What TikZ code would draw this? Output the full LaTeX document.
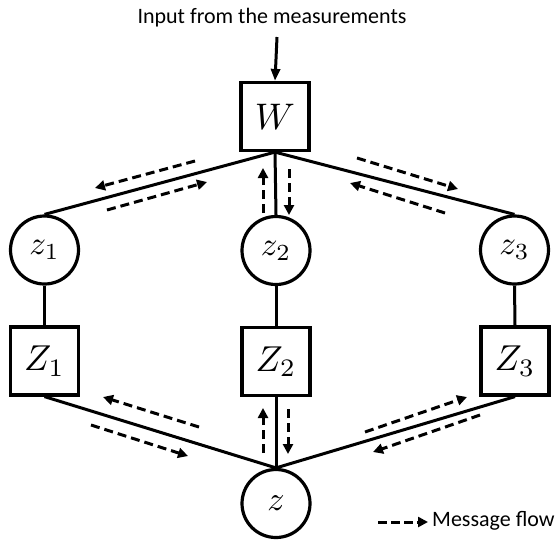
\documentclass[tikz,border=0pt]{standalone}
\usepackage{graphicx}
\usepackage{fontspec}
\setmainfont{Carlito}
\usetikzlibrary{arrows.meta}
\begin{document}
\begin{tikzpicture}[x=1pt,y=-1pt,
  boxnode/.style={draw,line width=3.2pt,minimum width=68pt,minimum height=68pt,inner sep=0pt},
  circnode/.style={draw,circle,line width=3.2pt,minimum size=68pt,inner sep=0pt},
  edge/.style={line width=3pt},
  msg/.style={line width=3pt,dash pattern=on 9pt off 5pt,-{Triangle[length=10pt,width=10pt]}},
  lbl/.style={font=\fontsize{22}{26}\selectfont}
]
\useasboundingbox (0,0) rectangle (559,539);
% nodes
\node[lbl] (inp) at (272,18) {Input from the measurements};
\coordinate (inpend) at (277,37);
\node[boxnode] (W) at (275,116.5) {\scalebox{3.7}{$W$}};
\node[circnode] (z1) at (44.5,250) {\scalebox{3.3}{$z_1$}};
\node[circnode] (z2) at (276,250.5) {\scalebox{3.3}{$z_2$}};
\node[circnode] (z3) at (514.5,250) {\scalebox{3.3}{$z_3$}};
\node[boxnode] (Z1) at (44.5,361) {\scalebox{3.6}{$Z_1$}};
\node[boxnode] (Z2) at (276,361.5) {\scalebox{3.6}{$Z_2$}};
\node[boxnode] (Z3) at (515,361) {\scalebox{3.6}{$Z_3$}};
\node[circnode] (z) at (276,503.5) {\scalebox{3.4}{$z$}};
% connectors
\draw[edge,-{Triangle[length=12pt,width=9pt]}] (inpend) -- (W.north);
\draw[edge] (W.south) -- (z1.north);
\draw[edge] (W.south) -- (z2.north);
\draw[edge] (W.south) -- (z3.north);
\draw[edge] (z1.south) -- (Z1.north);
\draw[edge] (z2.south) -- (Z2.north);
\draw[edge] (z3.south) -- (Z3.north);
\draw[edge] (Z1.south) -- (z.north);
\draw[edge] (Z2.south) -- (z.north);
\draw[edge] (Z3.south) -- (z.north);
% message flow arrows
\coordinate (a1s) at (195,161); \coordinate (a1e) at (95,188);
\coordinate (a2s) at (107,210); \coordinate (a2e) at (207,182);
\coordinate (a3s) at (263,213); \coordinate (a3e) at (263,168);
\coordinate (a4s) at (289,169); \coordinate (a4e) at (289,215);
\coordinate (a5s) at (357,158); \coordinate (a5e) at (458,189);
\coordinate (a6s) at (445,213); \coordinate (a6e) at (350,183);
\coordinate (a7s) at (199,427); \coordinate (a7e) at (103,397);
\coordinate (a8s) at (91,425);  \coordinate (a8e) at (188,456);
\coordinate (a9s) at (263,453); \coordinate (a9e) at (263,408);
\coordinate (a10s) at (288,409); \coordinate (a10e) at (288,454);
\coordinate (a11s) at (365,432); \coordinate (a11e) at (467,397);
\coordinate (a12s) at (480,415); \coordinate (a12e) at (373,452);
\foreach \i in {1,...,12} { \draw[msg] (a\i s) -- (a\i e); }
% legend
\node[lbl,anchor=west,inner sep=0pt] (leg) at (432,521) {Message flow};
\coordinate (legs) at (378,522);
\draw[msg,dash pattern=on 9pt off 4pt] (legs) -- ([xshift=-4pt]leg.west |- legs);
\end{tikzpicture}
\end{document}
